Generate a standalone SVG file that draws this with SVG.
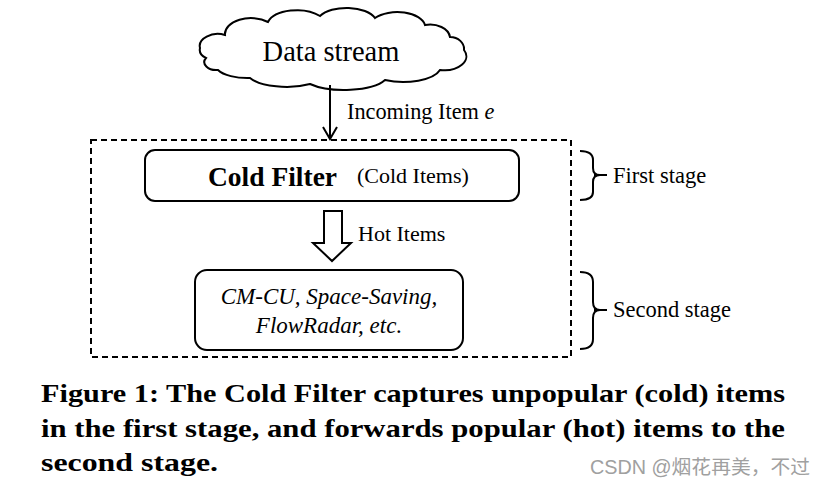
<svg xmlns="http://www.w3.org/2000/svg" width="825" height="487" viewBox="0 0 825 487">
<defs>
<style>
.ln{fill:none;stroke:#000;stroke-width:2}
.t{font-family:"Liberation Serif","Times New Roman",serif;fill:#000}
.cap{font-family:"Liberation Serif","Times New Roman",serif;font-weight:bold;font-size:25px;fill:#000}
</style>
<marker id="ah" markerWidth="16" markerHeight="16" viewBox="0 0 16 16" refX="14" refY="8" orient="auto" markerUnits="userSpaceOnUse">
<path d="M2,1 L14,8 L2,15" fill="none" stroke="#000" stroke-width="2"/>
</marker>
</defs>
<rect width="825" height="487" fill="#fff"/>
<g id="data-stream">
<path class="ln" d="M206,58 A14,10 0 0 1 200,48 A18,12 0 0 1 225,35 A26,16 0 0 1 268,22 A30,16 0 0 1 320,16 A30,15 0 0 1 375,18 A28,15 0 0 1 425,25 A20,14 0 0 1 450,37 A14,12 0 0 1 464,50 A22,14 0 0 1 440,70 A38,16 0 0 1 385,80 A44,16 0 0 1 310,84 A40,15 0 0 1 250,78 A32,13 0 0 1 218,70 A12,8 0 0 1 206,58 Z"/>
<text class="t" x="331" y="61" font-size="28.5" text-anchor="middle">Data stream</text>
</g>
<g id="first-stage">
<rect class="ln" x="145" y="150" width="374" height="51" rx="10"/>
<text class="t" x="208" y="186" font-size="27.5" font-weight="bold">Cold Filter</text>
<text class="t" x="357" y="183" font-size="22">(Cold Items)</text>
</g>
<g id="second-stage">
<rect class="ln" x="195" y="270" width="268" height="80" rx="12"/>
<text class="t" x="329" y="304" font-size="23" font-style="italic" text-anchor="middle">CM-CU, Space-Saving,</text>
<text class="t" x="329" y="333" font-size="23" font-style="italic" text-anchor="middle">FlowRadar, etc.</text>
</g>
<g id="pipeline">
<rect x="91" y="140" width="480" height="217" fill="none" stroke="#000" stroke-width="2" stroke-dasharray="6,4"/>
</g>
<g id="connectors">
<line class="ln" x1="330" y1="85" x2="330" y2="139" marker-end="url(#ah)"/>
<text class="t" x="347" y="119" font-size="22.3">Incoming Item <tspan font-style="italic">e</tspan></text>
<path class="ln" d="M324,211 L342,211 L342,243 L351,243 L332,261 L313,243 L324,243 Z"/>
<text class="t" x="358" y="241" font-size="22">Hot Items</text>
</g>
<g id="braces">
<path class="ln" d="M580,151 Q593,151 593,160 L593,168 Q593,175 600,175 Q593,175 593,182 L593,192 Q593,200 580,200"/>
<line class="ln" x1="594" y1="175" x2="607" y2="175"/>
<text class="t" x="613" y="183" font-size="22.5">First stage</text>
<path class="ln" d="M580,272 Q593,272 593,282 L593,302 Q593,310 600,310 Q593,310 593,318 L593,339 Q593,349 580,349"/>
<line class="ln" x1="594" y1="310" x2="607" y2="310"/>
<text class="t" x="613" y="317" font-size="22.5">Second stage</text>
</g>
<g id="caption">
<text class="cap" x="41" y="402" textLength="744" lengthAdjust="spacingAndGlyphs">Figure 1: The Cold Filter captures unpopular (cold) items</text>
<text class="cap" x="41" y="437" textLength="744" lengthAdjust="spacingAndGlyphs">in the first stage, and forwards popular (hot) items to the</text>
<text class="cap" x="41" y="471" textLength="177" lengthAdjust="spacingAndGlyphs">second stage.</text>
<text x="590" y="474" font-family="'Liberation Sans','Noto Sans CJK SC',sans-serif" font-size="19.5" fill="#a0a0a0" textLength="220" lengthAdjust="spacingAndGlyphs">CSDN @烟花再美，不过</text>
</g>
</svg>
